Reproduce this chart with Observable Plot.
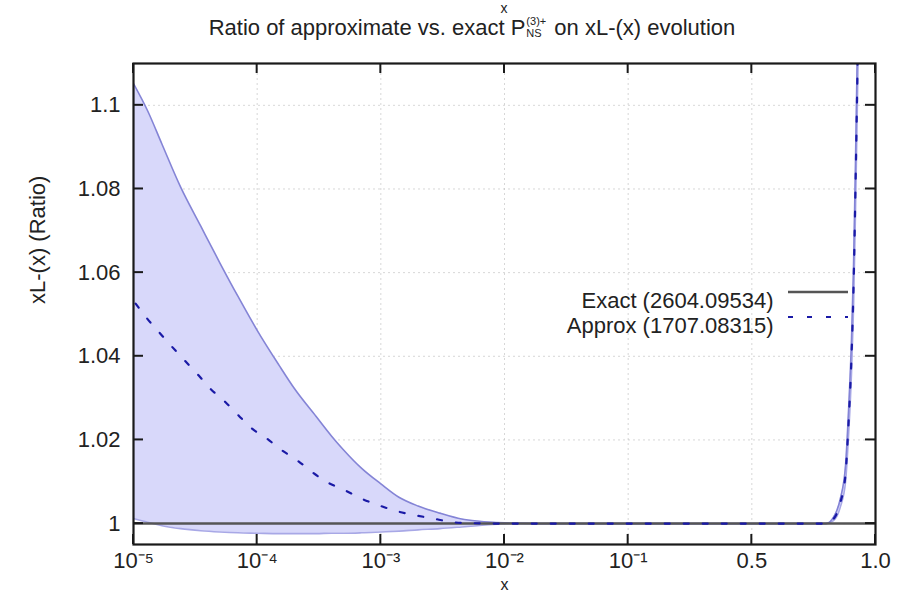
<!DOCTYPE html>
<html>
<head>
<meta charset="utf-8">
<script src="https://cdn.jsdelivr.net/npm/d3@7"></script>
<script src="https://cdn.jsdelivr.net/npm/@observablehq/plot@0.6"></script>
<style>
  body { margin: 0; background: #fff; }
  #wrap { position: relative; width: 914px; height: 599px; font-family: "Liberation Sans", Arial, sans-serif; color: #222; }
  #title { position: absolute; top: 14px; left: 0; width: 944px; text-align: center; font-size: 22px; line-height: 28px; white-space: nowrap; }
  .ss { display: inline-block; vertical-align: middle; font-size: 11px; line-height: 12px; text-align: left; margin: 0 2px 0 1px; position: relative; top: -2px; }
  .ss span { display: block; }
  #x2 { position: absolute; top: 1px; left: 0; width: 1008px; text-align: center; font-size: 14px; line-height: 14px; }
</style>
</head>
<body>
<div id="wrap">
  <div id="x2">x</div>
  <div id="title">Ratio of approximate vs. exact P<span class="ss"><span>(3)+</span><span>NS</span></span> on xL-(x) evolution</div>
</div>
<script>
// ---------- data ----------
const xTickValues = [1e-5, 1e-4, 1e-3, 1e-2, 1e-1, 0.5, 1.0];
const xTickLabels = ["10\u207B\u2075", "10\u207B\u2074", "10\u207B\u00B3", "10\u207B\u00B2", "10\u207B\u00B9", "0.5", "1.0"];
const yTickValues = [1, 1.02, 1.04, 1.06, 1.08, 1.1];
const yTickLabels = ["1", "1.02", "1.04", "1.06", "1.08", "1.1"];

// uncertainty band of the approximation
const bandX = [1e-5, 1.3e-5, 1.7e-5, 2.4e-5, 3.5e-5, 5e-5, 7e-5, 1e-4, 1.5e-4, 2e-4, 3e-4, 4e-4, 5e-4, 7e-4,
               1e-3, 1.4e-3, 2e-3, 3e-3, 4.5e-3, 6e-3, 8e-3, 1.2e-2, 2e-2, 0.1, 0.5, 0.8,
               0.835, 0.858, 0.879, 0.891, 0.903, 0.911, 0.919, 0.927, 0.935];
const bandHigh = [1.1052, 1.0987, 1.0907, 1.0805, 1.0711, 1.0623, 1.0543, 1.0462, 1.0379, 1.0323, 1.0256, 1.0209, 1.0176, 1.0132,
                  1.0095, 1.0063, 1.0042, 1.0025, 1.0011, 1.0006, 1.0003, 1.0001, 1.0, 1.0, 1.0, 1.0,
                  1.002, 1.006, 1.014, 1.027, 1.044, 1.061, 1.086, 1.115, 1.15];
const bandLow = [1.0012, 1.0003, 0.9995, 0.9988, 0.9983, 0.9980, 0.9978, 0.9977, 0.9976, 0.9976, 0.9976, 0.9977, 0.9977, 0.9978,
                 0.9980, 0.9982, 0.9985, 0.9988, 0.9992, 0.9995, 0.9998, 1.0, 1.0, 1.0, 1.0, 1.0,
                 1.001, 1.004, 1.010, 1.021, 1.036, 1.051, 1.074, 1.101, 1.13];

// Approx (1707.08315) / Exact (2604.09534)
const approxX = [1.04e-5, 1.29e-5, 1.65e-5, 2.06e-5, 2.63e-5, 3.37e-5, 4.2e-5, 5.55e-5, 7.1e-5, 9.1e-5, 1.2e-4, 1.59e-4,
                 2.11e-4, 2.79e-4, 3.68e-4, 5.18e-4, 7.06e-4, 9.8e-4, 1.37e-3, 1.97e-3, 2.77e-3, 3.89e-3, 5.48e-3,
                 1e-2, 0.1, 0.5, 0.8, 0.835, 0.858, 0.879, 0.891, 0.903, 0.911, 0.919, 0.927, 0.935];
const approxY = [1.0526, 1.0490, 1.0454, 1.0422, 1.0388, 1.0354, 1.0322, 1.0290, 1.0258, 1.0227, 1.0203, 1.0175,
                 1.0151, 1.0123, 1.0099, 1.0079, 1.0059, 1.0043, 1.0029, 1.0019, 1.0011, 1.0003, 1.0001,
                 1.0, 1.0, 1.0, 1.0, 1.0015, 1.005, 1.012, 1.024, 1.040, 1.056, 1.080, 1.108, 1.14];

const exactX = [1e-5, 1.0];
const exactY = [1.0, 1.0];

const legendLabels = ["Exact (2604.09534)", "Approx (1707.08315)"];

// ---------- axis mapping: tick-equidistant x coordinate ----------
function pos(x) {
  if (x <= 0.1) return Math.log10(x) + 5;
  if (x <= 0.5) return 4 + (x - 0.1) / 0.4;
  return 5 + (x - 0.5) / 0.5;
}

const band = bandX.map((x, i) => ({x, lo: bandLow[i], hi: bandHigh[i]}));
const approx = approxX.map((x, i) => ({x, y: approxY[i]}));
const exact = exactX.map((x, i) => ({x, y: exactY[i]}));

const FONT = 22;
const gridStyle = {stroke: "#bdbdbd", strokeOpacity: 0.6, strokeDasharray: "2,3", strokeWidth: 1};

const chart = Plot.plot({
  width: 914,
  height: 599,
  marginLeft: 133,
  marginRight: 39,
  marginTop: 63,
  marginBottom: 55,
  style: {fontFamily: "'Liberation Sans', Arial, sans-serif", fontSize: FONT + "px", color: "#222", background: "transparent"},
  x: {type: "linear", domain: [0, 6]},
  y: {type: "linear", domain: [0.995, 1.11]},
  marks: [
    Plot.gridX(xTickValues.map(pos), gridStyle),
    Plot.gridY(yTickValues, gridStyle),
    Plot.areaY(band, {x: d => pos(d.x), y1: "lo", y2: "hi", fill: "#d8d8fa", curve: "monotone-x", clip: true}),
    Plot.line(band, {x: d => pos(d.x), y: "lo", stroke: "#a8a8e6", strokeWidth: 1.6, curve: "monotone-x", clip: true}),
    Plot.line(band, {x: d => pos(d.x), y: "hi", stroke: "#8484d6", strokeWidth: 1.6, curve: "monotone-x", clip: true}),
    Plot.line(exact, {x: d => pos(d.x), y: "y", stroke: "#555", strokeWidth: 2.5, clip: true}),
    Plot.line(approx, {x: d => pos(d.x), y: "y", stroke: "#1a1aa6", strokeWidth: 2.2, strokeDasharray: "5,14", curve: "monotone-x", clip: true}),
    Plot.axisX(xTickValues.map(pos), {anchor: "bottom", tickSize: 0, tickPadding: 8, tickFormat: (d, i) => xTickLabels[i], fontSize: FONT, fill: "#222", label: null}),
    Plot.axisY(yTickValues, {anchor: "left", tickSize: 0, tickPadding: 13, tickFormat: (d, i) => yTickLabels[i], fontSize: FONT, fill: "#222", label: null}),
    Plot.text(["xL-(x) (Ratio)"], {frameAnchor: "left", dx: -96, rotate: -90, fontSize: FONT, fill: "#222"}),
    Plot.text(["x"], {frameAnchor: "bottom", dy: 45, fontSize: 16, fill: "#222"}),
    Plot.text([legendLabels[0]], {frameAnchor: "top-right", textAnchor: "end", dx: -102, dy: 229, fontSize: FONT, fill: "#222"}),
    Plot.text([legendLabels[1]], {frameAnchor: "top-right", textAnchor: "end", dx: -102, dy: 254, fontSize: FONT, fill: "#222"}),
    Plot.frame({stroke: "#1a1a1a", strokeWidth: 2.2})
  ]
});

// inward tick marks on all four sides, placed through the plot's scales
const sx = chart.scale("x"), sy = chart.scale("y");
const svg = d3.select(chart);
const L = 133, R = 914 - 39, T = 63, B = 599 - 55, TL = 10;
const g = svg.append("g").attr("stroke", "#1a1a1a").attr("stroke-width", 2);
xTickValues.forEach(v => {
  const px = sx.apply(pos(v));
  g.append("line").attr("x1", px).attr("x2", px).attr("y1", B).attr("y2", B - TL);
  g.append("line").attr("x1", px).attr("x2", px).attr("y1", T).attr("y2", T + TL);
});
yTickValues.forEach(v => {
  const py = sy.apply(v);
  g.append("line").attr("y1", py).attr("y2", py).attr("x1", L).attr("x2", L + TL);
  g.append("line").attr("y1", py).attr("y2", py).attr("x1", R).attr("x2", R - TL);
});
// legend samples
const lg = svg.append("g");
const ly1 = T + 229, ly2 = T + 254;
lg.append("line").attr("x1", 788).attr("x2", 848).attr("y1", ly1).attr("y2", ly1).attr("stroke", "#555").attr("stroke-width", 2.5);
lg.append("line").attr("x1", 788).attr("x2", 848).attr("y1", ly2).attr("y2", ly2).attr("stroke", "#1a1aa6").attr("stroke-width", 2.2).attr("stroke-dasharray", "5,14");

document.getElementById("wrap").prepend(chart);
chart.style.position = "absolute";
chart.style.left = "0";
chart.style.top = "0";
</script>
</body>
</html>
